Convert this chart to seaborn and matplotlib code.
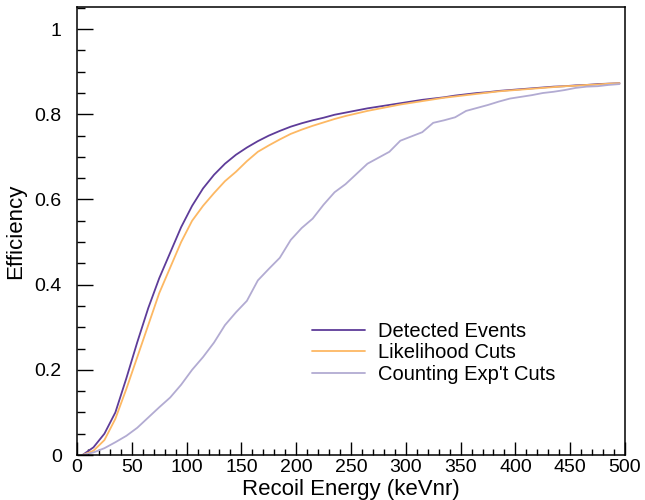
import numpy as np
import pandas as pd
import matplotlib
matplotlib.use("Agg")
import matplotlib.pyplot as plt
from matplotlib.ticker import MultipleLocator, FuncFormatter
import seaborn as sns

# recoil energy bin centers (keVnr)
energy = list(range(5, 500, 10))

detected = [0.0, 0.018, 0.05, 0.10, 0.18, 0.265, 0.345, 0.415, 0.475, 0.535,
            0.585, 0.626, 0.658, 0.684, 0.705, 0.722, 0.737, 0.750, 0.761, 0.771,
            0.779, 0.786, 0.792, 0.799, 0.804, 0.809, 0.814, 0.818, 0.822, 0.826,
            0.830, 0.834, 0.837, 0.840, 0.844, 0.847, 0.850, 0.852, 0.855, 0.857,
            0.859, 0.861, 0.863, 0.865, 0.866, 0.868, 0.869, 0.871, 0.872, 0.873]

likelihood = [0.0, 0.010, 0.035, 0.085, 0.155, 0.230, 0.305, 0.380, 0.440, 0.500,
              0.550, 0.585, 0.615, 0.643, 0.665, 0.690, 0.712, 0.727, 0.741, 0.754,
              0.764, 0.773, 0.781, 0.789, 0.796, 0.802, 0.808, 0.813, 0.818, 0.823,
              0.827, 0.831, 0.835, 0.839, 0.842, 0.845, 0.848, 0.851, 0.854, 0.856,
              0.858, 0.860, 0.862, 0.864, 0.866, 0.867, 0.869, 0.870, 0.872, 0.873]

counting = [0.0, 0.006, 0.016, 0.030, 0.045, 0.064, 0.088, 0.112, 0.135, 0.165,
            0.200, 0.230, 0.264, 0.305, 0.335, 0.362, 0.410, 0.437, 0.463, 0.505,
            0.533, 0.555, 0.588, 0.617, 0.636, 0.660, 0.684, 0.698, 0.712, 0.738,
            0.748, 0.758, 0.780, 0.786, 0.793, 0.808, 0.815, 0.822, 0.830, 0.837,
            0.841, 0.845, 0.850, 0.853, 0.857, 0.862, 0.865, 0.866, 0.869, 0.871]

series_names = ["Detected Events", "Likelihood Cuts", "Counting Exp't Cuts"]
colors = ["#5e3c99", "#fdb863", "#b2abd2"]

#%% long table
df = pd.concat([
    pd.DataFrame({"energy": energy, "eff": vals, "series": name})
    for name, vals in zip(series_names, [detected, likelihood, counting])
])

#%% plot
sns.set_style("white")
plt.rcParams['font.family'] = ['Liberation Sans', 'DejaVu Sans']
plt.rcParams['text.color'] = 'black'
plt.rcParams['axes.labelcolor'] = 'black'
plt.rcParams['xtick.color'] = 'black'
plt.rcParams['ytick.color'] = 'black'

fig = plt.figure(figsize=(6.45, 5), dpi=100)
ax = fig.add_axes([0.1194, 0.09, 0.8496, 0.896])

sns.lineplot(data=df, x="energy", y="eff", hue="series", hue_order=series_names,
             palette=colors, linewidth=1.3, ax=ax, sort=False)

ax.set_xlim(0, 500)
ax.set_ylim(0, 1.052)
ax.xaxis.set_major_locator(MultipleLocator(50))
ax.xaxis.set_minor_locator(MultipleLocator(10))
ax.yaxis.set_major_locator(MultipleLocator(0.2))
ax.yaxis.set_minor_locator(MultipleLocator(0.05))
ax.yaxis.set_major_formatter(FuncFormatter(lambda v, p: "%g" % round(v, 2)))

ax.tick_params(axis='both', which='both', direction='in', color='black',
               width=1.0, labelsize=14, bottom=True, left=True,
               top=False, right=False)
ax.tick_params(axis='x', which='major', length=9.5, pad=3)
ax.tick_params(axis='x', which='minor', length=4.5)
ax.tick_params(axis='y', which='major', length=11.5, pad=11)
ax.tick_params(axis='y', which='minor', length=5.8)
for s in ax.spines.values():
    s.set_color('black')
    s.set_linewidth(1.1)

ax.set_xlabel("Recoil Energy (keVnr)", fontsize=16, labelpad=2)
ax.set_ylabel("Efficiency", fontsize=16, labelpad=6)

ax.legend(loc='upper left', bbox_to_anchor=(0.415, 0.315), frameon=False,
          fontsize=14.5, handlelength=2.6, handletextpad=0.65,
          labelspacing=0.12, borderaxespad=0)
ax.grid(False)

fig.savefig("out.png", dpi=100)
